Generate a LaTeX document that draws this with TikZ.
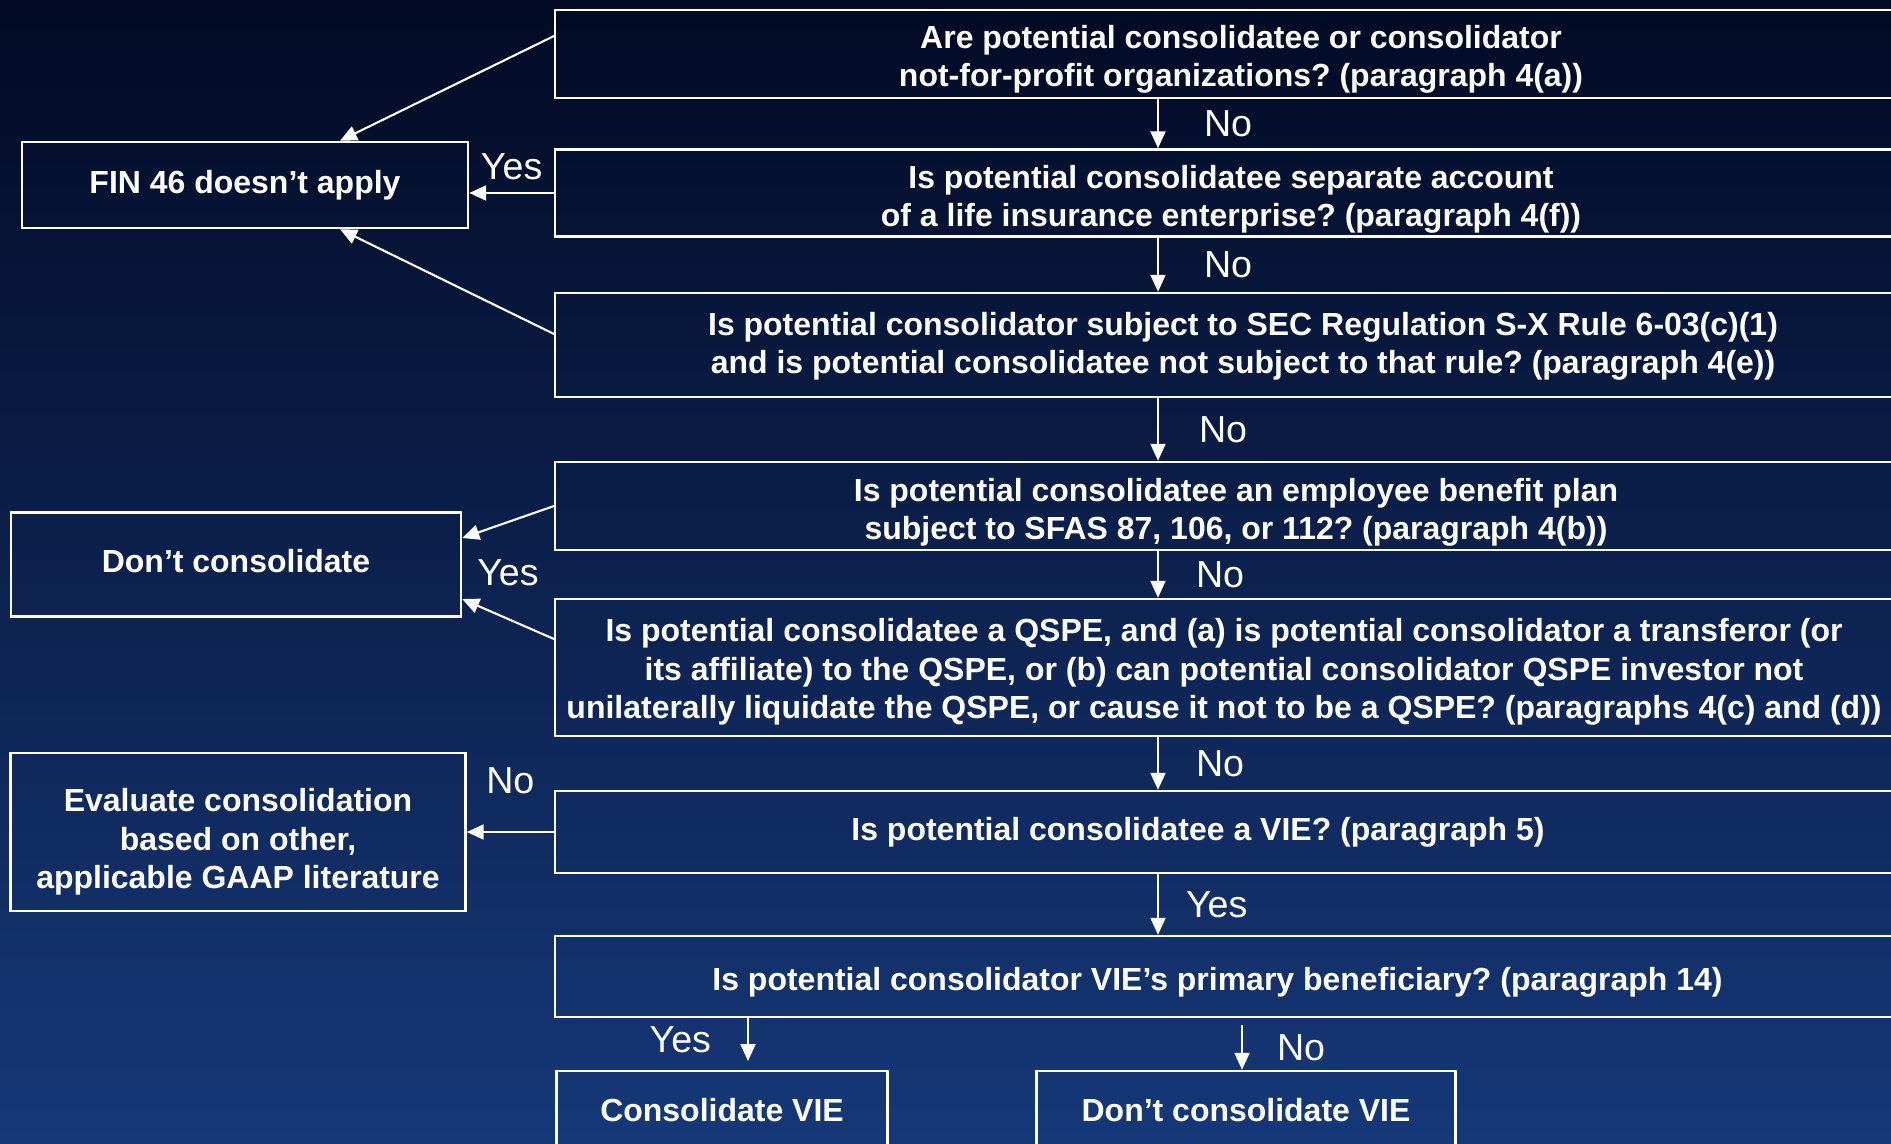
\documentclass[tikz,border=0pt]{standalone}
\usepackage{fontspec}
\setmainfont{Liberation Sans}
\usetikzlibrary{arrows.meta,positioning}
\frenchspacing

\begin{document}
\begin{tikzpicture}[
    question/.style={draw=white, line width=0.7pt, inner sep=0pt, minimum width=13.8cm, anchor=west},
    questionText/.style={text=white, font=\bfseries\fontsize{9.1}{10.9}\selectfont, align=center, inner sep=0pt},
    outcome/.style={draw=white, line width=0.7pt, inner sep=0pt, text=white, font=\bfseries\fontsize{9.1}{10.9}\selectfont, align=center},
    answer/.style={text=white, font=\fontsize{10.7}{12}\selectfont, inner sep=0pt},
    arrow/.style={draw=white, line width=0.6pt, -{Triangle[length=0.17cm,width=0.15cm]}}
]
    % Define colours
    \definecolor{topColour}{HTML}{020A24}
    \definecolor{bottomColour}{HTML}{163878}

    % Page size and background
    \useasboundingbox (0,0) rectangle (18.91,-11.43);
    \clip (0,0) rectangle (18.91,-11.43);
    \shade[top color=topColour, bottom color=bottomColour] (0,0) rectangle (18.91,-11.43);

    % Question boxes (they run past the right edge)
    \node[question, minimum height=0.88cm] (q1) at (5.54,-0.54) {};
    \node[question, minimum height=0.87cm] (q2) at (5.54,-1.93) {};
    \node[question, minimum height=1.04cm] (q3) at (5.54,-3.45) {};
    \node[question, minimum height=0.88cm] (q4) at (5.54,-5.06) {};
    \node[question, minimum height=1.37cm] (q5) at (5.54,-6.675) {};
    \node[question, minimum height=0.82cm] (q6) at (5.54,-8.32) {};
    \node[question, minimum height=0.81cm] (q7) at (5.54,-9.765) {};

    % Question texts
    \node[questionText] (q1text) at (12.41,-0.59) {Are potential consolidatee or consolidator\\not-for-profit organizations? (paragraph 4(a))};
    \node[questionText] (q2text) at (12.31,-1.99) {Is potential consolidatee separate account\\of a life insurance enterprise? (paragraph 4(f))};
    \node[questionText] (q3text) at (12.43,-3.46) {Is potential consolidator subject to SEC Regulation S-X Rule 6-03(c)(1)\\and is potential consolidatee not subject to that rule? (paragraph 4(e))};
    \node[questionText] (q4text) at (12.36,-5.12) {Is potential consolidatee an employee benefit plan\\subject to SFAS 87, 106, or 112? (paragraph 4(b))};
    \node[questionText] (q5text) at (12.24,-6.72) {Is potential consolidatee a QSPE, and (a) is potential consolidator a transferor (or\\its affiliate) to the QSPE, or (b) can potential consolidator QSPE investor not\\unilaterally liquidate the QSPE, or cause it not to be a QSPE? (paragraphs 4(c) and (d))};
    \node[questionText] (q6text) at (11.98,-8.32) {Is potential consolidatee a VIE? (paragraph 5)};
    \node[questionText] (q7text) at (12.175,-9.82) {Is potential consolidator VIE’s primary beneficiary? (paragraph 14)};

    % Outcome boxes
    \node[outcome, minimum width=4.46cm, minimum height=0.86cm] (fin) at (2.45,-1.85) {FIN 46 doesn’t apply};
    \node[outcome, minimum width=4.50cm, minimum height=1.04cm] (dc) at (2.36,-5.645) {Don’t consolidate\rule[-0.08cm]{0pt}{0pt}};
    \node[outcome, minimum width=4.55cm, minimum height=1.58cm] (eval) at (2.38,-8.32) {\rule{0pt}{0.43cm}Evaluate consolidation\\based on other,\\applicable GAAP literature};
    \node[outcome, minimum width=3.31cm, minimum height=0.78cm] (cvie) at (7.22,-11.10) {Consolidate VIE};
    \node[outcome, minimum width=4.19cm, minimum height=0.78cm] (dcvie) at (12.46,-11.10) {Don’t consolidate VIE};

    % Main line of No answers
    \coordinate (spine) at (11.58,0);
    \draw[arrow] (q1.south -| spine) -- (q2.north -| spine) node[answer, midway, right=0.45cm] {No};
    \draw[arrow] (q2.south -| spine) -- (q3.north -| spine) node[answer, midway, right=0.45cm] {No};
    \draw[arrow] (q3.south -| spine) -- (q4.north -| spine) node[answer, midway, right=0.4cm] {No};
    \draw[arrow] (q4.south -| spine) -- (q5.north -| spine) node[answer, midway, right=0.37cm] {No};
    \draw[arrow] (q5.south -| spine) -- (q6.north -| spine) node[answer, midway, right=0.37cm] {No};
    \draw[arrow] (q6.south -| spine) -- (q7.north -| spine) node[answer, midway, right=0.27cm] {Yes};

    % Yes answers to the scope exceptions
    \draw[arrow] ([yshift=0.18cm]q1.west) -- ([xshift=0.95cm]fin.north);
    \draw[arrow] (q2.west) -- (q2.west -| fin.east) node[answer, midway, above=0.12cm] {Yes};
    \draw[arrow] ([yshift=0.11cm]q3.west) -- ([xshift=0.95cm]fin.south);
    \draw[arrow] (q4.west) -- ([yshift=0.265cm]dc.east);
    \draw[arrow] ([yshift=0.285cm]q5.west) -- ([yshift=-0.345cm]dc.east);
    \node[answer] (yesdc) at (5.08,-5.73) {Yes};

    % Not a VIE
    \draw[arrow] (q6.west) -- (q6.west -| eval.east) node[answer, midway, above=0.37cm] {No};

    % Primary beneficiary answers
    \coordinate (yesdrop) at (7.48,-10.61);
    \draw[arrow] (q7.south -| yesdrop) -- (yesdrop) node[answer, midway, left=0.36cm] {Yes};
    \draw[arrow] ([xshift=-0.04cm,yshift=-0.07cm]q7.south -| dcvie.north) -- ([xshift=-0.04cm]dcvie.north) node[answer, midway, right=0.34cm] {No};

\end{tikzpicture}
\end{document}
